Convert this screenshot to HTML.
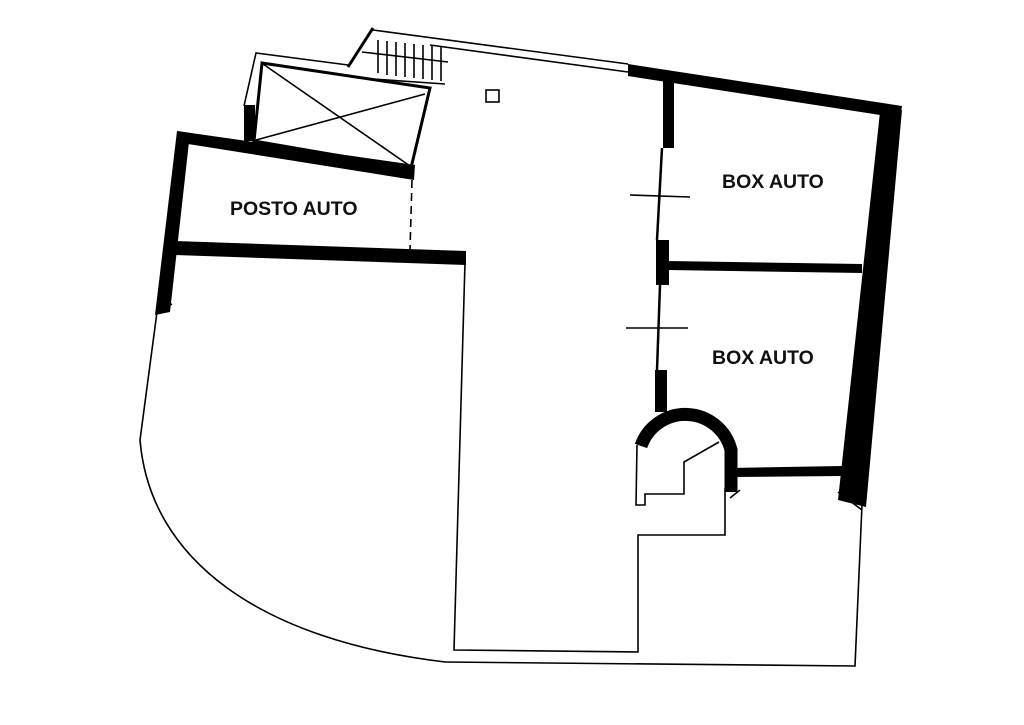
<!DOCTYPE html>
<html><head><meta charset="utf-8"><style>
html,body{margin:0;padding:0;background:#fff;}
svg{display:block}
text{font-family:"Liberation Sans",Arial,sans-serif;font-weight:bold;font-size:19.5px;fill:#111}
</style></head><body>
<svg width="1024" height="725" viewBox="0 0 1024 725" xmlns="http://www.w3.org/2000/svg">
<g fill="#000" stroke="none">
<polygon points="628,64 902,106 900,118 628,76"/>
<polygon points="880,112 902,110 866,507 838,500"/>
<rect x="663" y="80" width="11" height="68"/>
<rect x="656" y="240" width="13" height="45"/>
<rect x="655" y="370" width="12" height="42"/>
<polygon points="668,261 862,264 862,273 668,270"/>
<polygon points="730,468 842,466 842,476 730,477"/>
<polygon points="177,131 190,133 170,312 155,315"/>
<polygon points="177,131 415,165 414,180 188,144"/>
<polygon points="175,241 466,251 466,265 175,255"/>
<rect x="244" y="105" width="11" height="36"/>
</g>
<g fill="none" stroke="#000" stroke-width="1.6">
<path d="M641,446 A47,47 0 0 1 731,450 L731,492" stroke-width="13"/>
<polyline points="637,445 636,505 645,505 645,494 684,494 684,462 719,442"/>
<polyline points="725,488 725,535 638,535 638,652 454,650 465,262"/>
<line x1="662" y1="148" x2="657" y2="240" stroke-width="2.5"/>
<line x1="660" y1="285" x2="657" y2="370" stroke-width="2.5"/>
<line x1="630" y1="195" x2="690" y2="197"/>
<line x1="626" y1="328" x2="688" y2="328"/>
<polyline points="862,505 855,666 445,662"/>
<path d="M157,312 L140,440 C150,560 260,640 445,662"/>
<line x1="838" y1="492" x2="862" y2="510"/>
<line x1="730" y1="498" x2="740" y2="490"/>
<line x1="373" y1="30" x2="628" y2="64"/>
<line x1="430" y1="45" x2="628" y2="72"/>
<line x1="373" y1="28" x2="348" y2="67" stroke-width="3"/>
<line x1="362" y1="52" x2="448" y2="62"/>
<line x1="358" y1="78" x2="445" y2="84"/>
<path d="M378,40v33M387,41v34M396,42v34M405,43v34M414,44v34M423,45v34M432,46v34M441,47v34"/>
<polyline points="244,106 256,53 348,65"/>
<polygon points="262,63 430,88 411,168 254,141" stroke-width="3"/>
<line x1="263" y1="64" x2="410" y2="166"/>
<line x1="256" y1="140" x2="425" y2="94"/>
<line x1="412" y1="180" x2="410" y2="250" stroke-dasharray="8,5"/>
<rect x="486" y="90" width="13" height="12"/>
<line x1="158" y1="310" x2="172" y2="304"/>
</g>
<text x="230" y="215">POSTO AUTO</text>
<text x="722" y="188">BOX AUTO</text>
<text x="712" y="364">BOX AUTO</text>
</svg>
</body></html>
